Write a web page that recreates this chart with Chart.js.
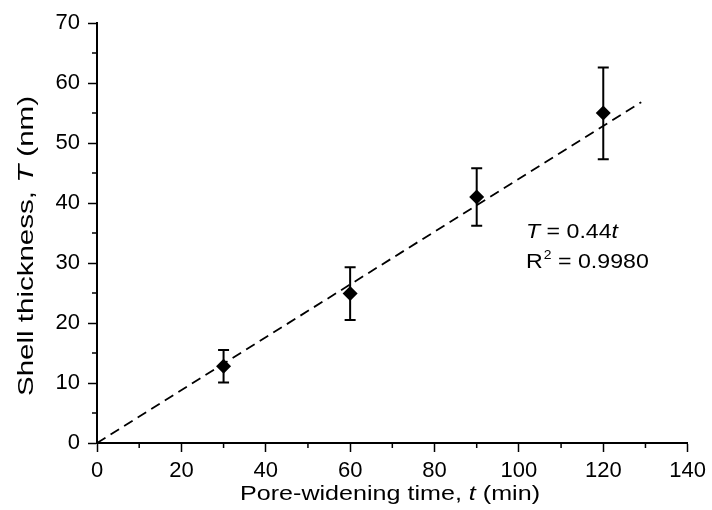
<!DOCTYPE html>
<html><head><meta charset="utf-8">
<script src="https://cdn.jsdelivr.net/npm/chart.js@4/dist/chart.umd.min.js"></script>
<style>html,body{margin:0;padding:0;background:#fff}#wrap{width:712px;height:510px}</style>
</head><body><div id="wrap"><canvas id="c" width="712" height="510"></canvas></div>
<script>
// ---- data ----
const times = [30, 60, 90, 120];
const thickness = [12.8, 24.9, 41.0, 55.0];
const errUpper = [15.5, 29.3, 45.8, 62.6];
const errLower = [10.1, 20.5, 36.2, 47.3];
const fitTimes = [0, 129];
const fitThickness = [0, 56.8];
const xMinorTicks = [10, 30, 50, 70, 90, 110, 130];
const yMinorTicks = [5, 15, 25, 35, 45, 55, 65];
const xTitleParts = [["Pore-widening time, ", false], ["t", true], [" (min)", false]];
const yTitleParts = [["Shell thickness, ", false], ["T", true], [" (nm)", false]];
const eqLine1 = [["T", true], [" = 0.44", false], ["t", true]];
const eqR2 = ["R", "2", " = 0.9980"];

const FONT = "'Liberation Sans', Arial, sans-serif";
const FS = 22;

// draws text parts horizontally stretched to fit a target width
function drawParts(ctx, parts, x, y, size, align, target) {
  let total = 0;
  parts.forEach(([t, it]) => { ctx.font = (it ? 'italic ' : '') + size + 'px ' + FONT; total += ctx.measureText(t).width; });
  const sx = target ? target / total : 1;
  ctx.save();
  ctx.translate(x, y);
  ctx.scale(sx, 1);
  let cx = align === 'center' ? -total / 2 : 0;
  parts.forEach(([t, it]) => {
    ctx.font = (it ? 'italic ' : '') + size + 'px ' + FONT;
    ctx.fillText(t, cx, 0);
    cx += ctx.measureText(t).width;
  });
  ctx.restore();
  return sx;
}

const extras = {
  id: 'extras',
  beforeDatasetsDraw(chart) {
    const ctx = chart.ctx, xs = chart.scales.x, ys = chart.scales.y;
    ctx.save();
    ctx.strokeStyle = '#000'; ctx.lineWidth = 2;
    times.forEach((t, i) => {
      const px = xs.getPixelForValue(t);
      const top = ys.getPixelForValue(errUpper[i]);
      const bot = ys.getPixelForValue(errLower[i]);
      ctx.beginPath();
      ctx.moveTo(px, top); ctx.lineTo(px, bot);
      ctx.moveTo(px - 5.5, top); ctx.lineTo(px + 5.5, top);
      ctx.moveTo(px - 5.5, bot); ctx.lineTo(px + 5.5, bot);
      ctx.stroke();
    });
    ctx.restore();
  },
  afterDraw(chart) {
    const ctx = chart.ctx, xs = chart.scales.x, ys = chart.scales.y, a = chart.chartArea;
    ctx.save();
    // minor ticks
    ctx.strokeStyle = '#000'; ctx.lineWidth = 1.5;
    ctx.beginPath();
    xMinorTicks.forEach(v => { const p = xs.getPixelForValue(v); ctx.moveTo(p, a.bottom); ctx.lineTo(p, a.bottom + 5); });
    yMinorTicks.forEach(v => { const p = ys.getPixelForValue(v); ctx.moveTo(a.left, p); ctx.lineTo(a.left - 5, p); });
    ctx.stroke();
    ctx.fillStyle = '#000';
    ctx.textBaseline = 'alphabetic';
    ctx.textAlign = 'left';
    // x title
    drawParts(ctx, xTitleParts, 390, 500, 21, 'center', 300);
    // y title
    ctx.save();
    ctx.translate(33, 246);
    ctx.rotate(-Math.PI / 2);
    drawParts(ctx, yTitleParts, 0, 0, 22, 'center', 300);
    ctx.restore();
    // equation
    const sx = drawParts(ctx, eqLine1, 526, 238, 20, 'left', 92);
    ctx.save();
    ctx.translate(526, 268);
    ctx.scale(sx, 1);
    ctx.font = '20px ' + FONT;
    let x0 = 0;
    ctx.fillText(eqR2[0], x0, 0); x0 += ctx.measureText(eqR2[0]).width + 1;
    ctx.font = '12px ' + FONT;
    ctx.fillText(eqR2[1], x0, -9); x0 += ctx.measureText(eqR2[1]).width;
    ctx.font = '20px ' + FONT;
    ctx.fillText(eqR2[2], x0, 0);
    ctx.restore();
    ctx.restore();
  }
};

new Chart(document.getElementById('c'), {
  type: 'scatter',
  data: {
    datasets: [
      {
        data: fitTimes.map((t, i) => ({ x: t, y: fitThickness[i] })),
        showLine: true, borderColor: '#000', borderWidth: 1.8, borderDash: [10, 6],
        pointRadius: 0, fill: false, order: 2
      },
      {
        data: times.map((t, i) => ({ x: t, y: thickness[i] })),
        pointStyle: 'rectRot', pointRadius: 7.5, backgroundColor: '#000', borderColor: '#000',
        borderWidth: 0, showLine: false, order: 1
      }
    ]
  },
  options: {
    responsive: false, devicePixelRatio: 1, animation: false,
    layout: { padding: { left: 0, right: 24, top: 23, bottom: 0 } },
    plugins: { legend: { display: false }, tooltip: { enabled: false } },
    scales: {
      x: {
        type: 'linear', min: 0, max: 140,
        ticks: { stepSize: 20, color: '#000', font: { family: FONT, size: FS }, padding: 6, maxRotation: 0 },
        grid: { drawOnChartArea: false, tickLength: 9, color: '#000', tickWidth: 1.5 },
        border: { color: '#000', width: 2 },
        afterFit(s) { s.height = 67; }
      },
      y: {
        type: 'linear', min: 0, max: 70,
        ticks: { stepSize: 10, color: '#000', font: { family: FONT, size: FS }, padding: 8 },
        grid: { drawOnChartArea: false, tickLength: 9, color: '#000', tickWidth: 1.5 },
        border: { color: '#000', width: 2 },
        afterFit(s) { s.width = 97; }
      }
    }
  },
  plugins: [extras]
});
</script>
</body></html>
